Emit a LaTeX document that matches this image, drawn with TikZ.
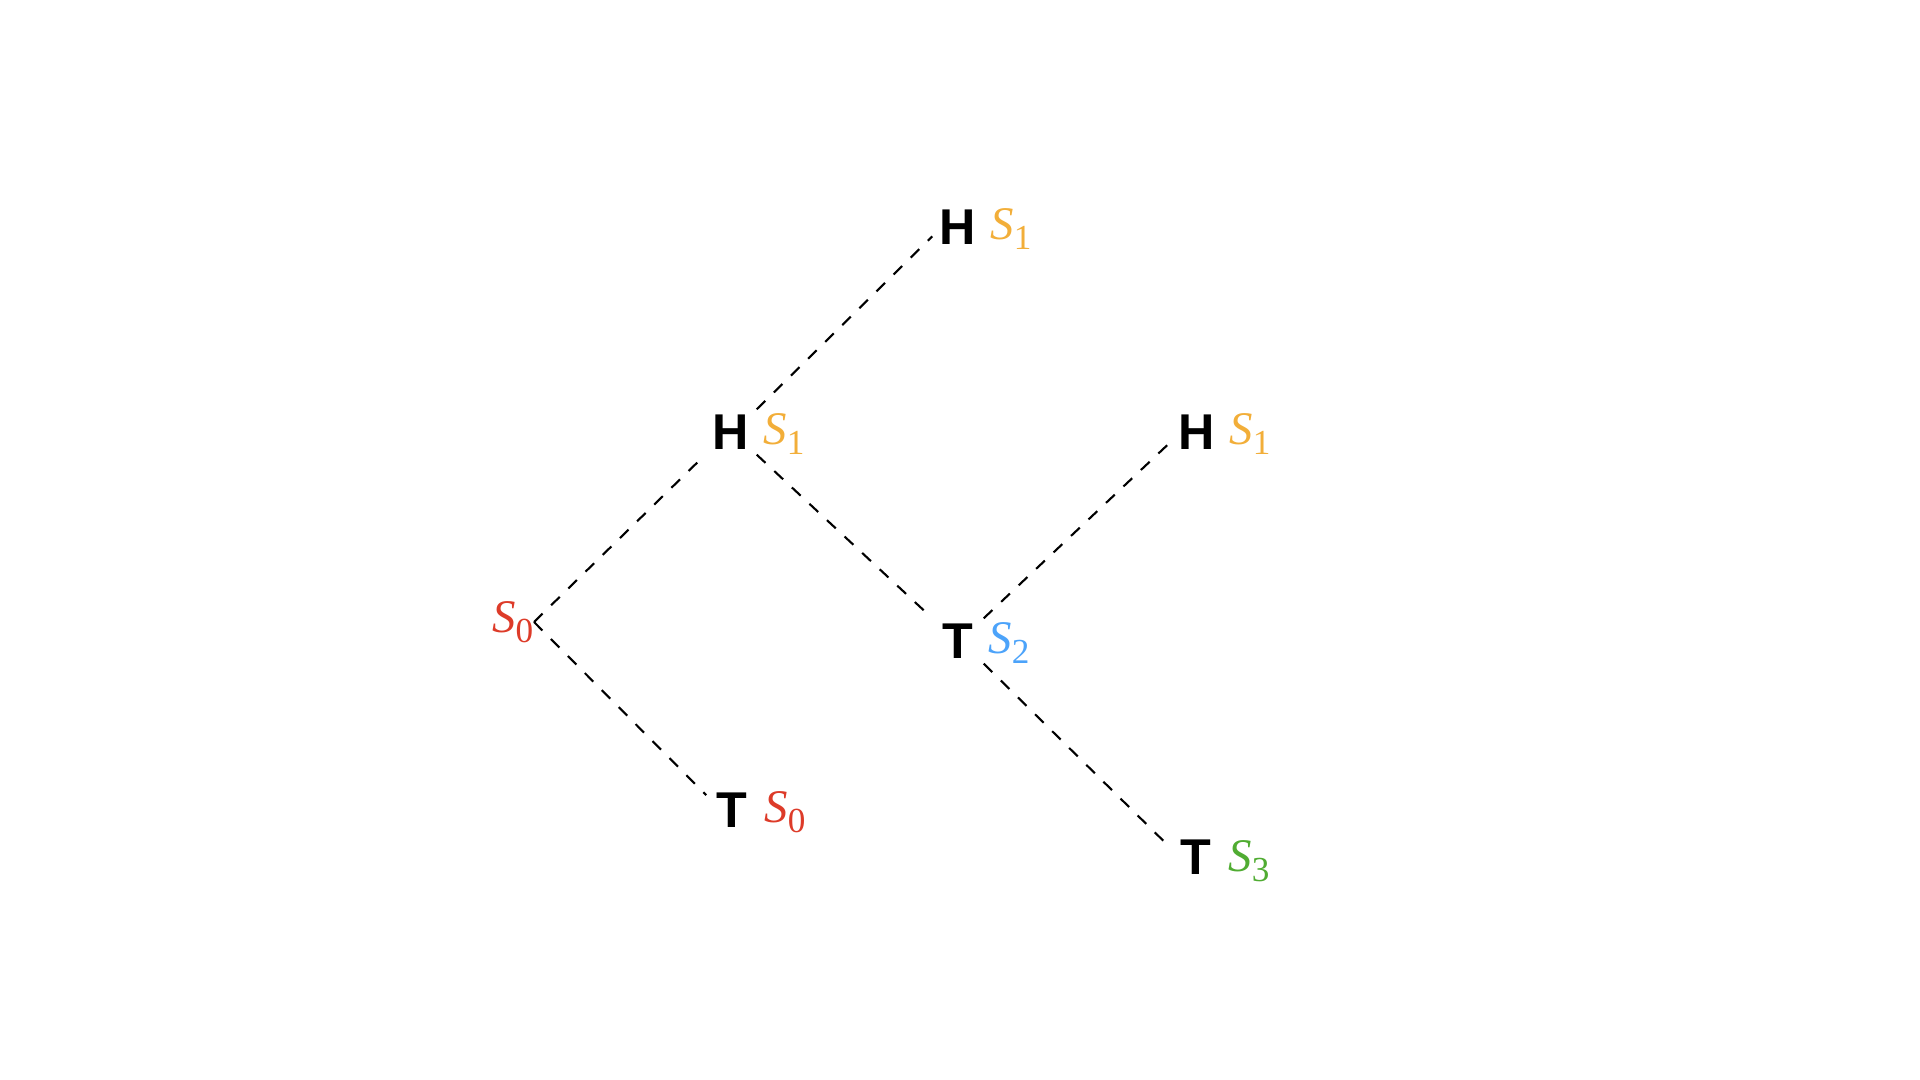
\documentclass[tikz,border=0pt]{standalone}
\usepackage{fontspec}
\setsansfont{Liberation Sans}
\newfontfamily\statefont{Liberation Serif}
\usetikzlibrary{positioning}
\definecolor{cus-red}{RGB}{221,59,41}
\definecolor{cus-orange}{RGB}{242,174,57}
\definecolor{cus-sky}{RGB}{76,163,250}
\definecolor{cus-green}{RGB}{80,172,50}
\newcommand{\stlabel}[1]{{\itshape S}\raisebox{-3pt}{\fontsize{10}{11}\selectfont #1}}

\begin{document}
\begin{tikzpicture}[x=0.01cm, y=-0.01cm,
	coin/.style={inner sep=0pt, minimum width=0.5cm, minimum height=0.44cm,
		font=\fontsize{14.3}{16}\sffamily\bfseries},
	state/.style={inner sep=0pt, font=\fontsize{13.3}{15}\statefont},
	branch/.style={line width=0.6pt, dash pattern=on 0.12cm off 0.12cm}]
\useasboundingbox (0,0) rectangle (1920,1080);
% coin tosses
\node [state, text=cus-red, anchor=east] (root) at (534,622) {\stlabel{0}};
\node [coin] (hm) at (731,432) {H};
\node [coin] (tl) at (732,810) {T};
\node [coin] (ht) at (958,227) {H};
\node [coin] (tm) at (958,641) {T};
\node [coin] (hr) at (1197,432) {H};
\node [coin] (tb) at (1196,857) {T};
% states
\node [state, text=cus-orange, right=0.06cm of hm, yshift=-0.02cm] (hm-s) {\stlabel{1}};
\node [state, text=cus-red, right=0.06cm of tl, yshift=-0.02cm] (tl-s) {\stlabel{0}};
\node [state, text=cus-orange, right=0.06cm of ht, yshift=-0.02cm] (ht-s) {\stlabel{1}};
\node [state, text=cus-sky, right=0.04cm of tm, yshift=-0.02cm] (tm-s) {\stlabel{2}};
\node [state, text=cus-orange, right=0.06cm of hr, yshift=-0.02cm] (hr-s) {\stlabel{1}};
\node [state, text=cus-green, right=0.06cm of tb, yshift=-0.04cm] (tb-s) {\stlabel{3}};
% branches
\foreach \a/\b in {root.east/hm.south west, root.east/tl.150,
	hm.north east/ht.200, hm.south east/tm.north west,
	tm.north east/hr.200, tm.south east/tb.160}
	\draw [branch] (\a) -- (\b);
\end{tikzpicture}
\end{document}
